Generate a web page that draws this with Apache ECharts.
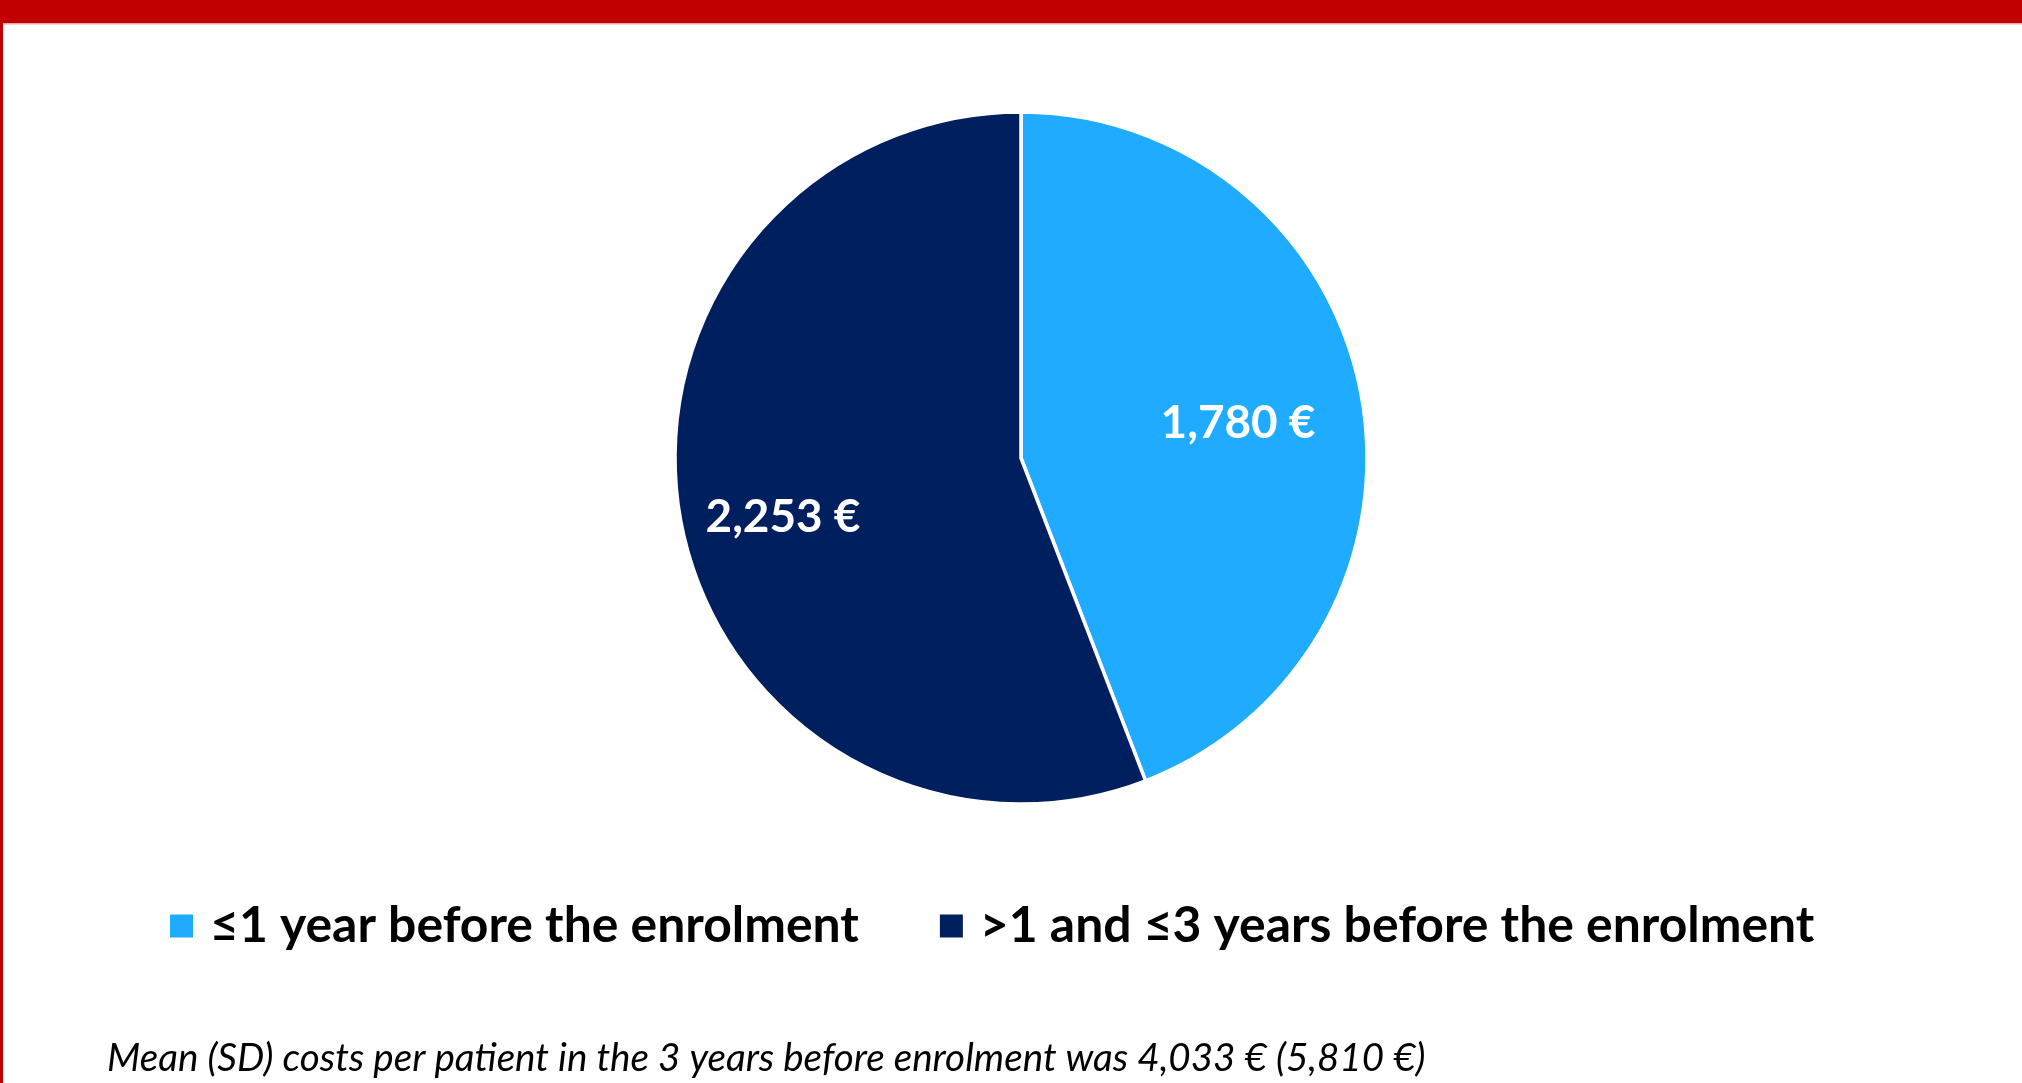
<!DOCTYPE html>
<html>
<head>
<meta charset="utf-8">
<script src="https://cdn.jsdelivr.net/npm/echarts@6/dist/echarts.min.js"></script>
<style>
html,body{margin:0;padding:0;background:#fff;}
#chart{width:2022px;height:1083px;}
</style>
</head>
<body>
<div id="chart"></div>
<script>
const categories = ['≤1 year before the enrolment', '>1 and ≤3 years before the enrolment'];
const values = [1780, 2253];
const colors = ['#1FABFF', '#001F5F'];
const footnote = 'Mean (SD) costs per patient in the 3 years before enrolment was 4,033 € (5,810 €)';

const FAMILY = 'Lato, "Noto Sans", sans-serif';
const cv = document.createElement('canvas').getContext('2d');
function fitSize(text, style, target) {
  cv.font = style + ' 100px ' + FAMILY;
  return 100 * target / cv.measureText(text).width;
}
function fmt(v) { return v.toLocaleString('en-US') + ' €'; }

const labelSize = fitSize(fmt(values[0]), 'bold', 155);
const legendSize = fitSize(categories[0], 'bold', 649);
const footSize = fitSize(footnote, 'italic', 1319);

const labelShift = [[44, -3], [-65, 27]];

const chart = echarts.init(document.getElementById('chart'), null, {renderer: 'canvas'});
chart.setOption({
  backgroundColor: '#fff',
  animation: false,
  color: colors,
  legend: {
    left: 168,
    top: 901,
    padding: 0,
    itemWidth: 25,
    itemHeight: 25,
    itemGap: 79,
    icon: 'rect',
    selectedMode: false,
    data: categories,
    textStyle: {
      fontFamily: FAMILY,
      fontWeight: 'bold',
      fontSize: legendSize,
      color: '#000',
      lineHeight: 25,
      padding: [0, 0, 0, 11]
    }
  },
  graphic: [
    {type: 'rect', shape: {x: 0, y: 0, width: 2022, height: 23}, style: {fill: '#C00000'}, silent: true},
    {type: 'rect', shape: {x: 0, y: 23, width: 2022, height: 1.5}, style: {fill: '#F2A3A3'}, silent: true},
    {type: 'rect', shape: {x: 0, y: 23, width: 3, height: 1060}, style: {fill: '#C00000'}, silent: true},
    {type: 'text', left: 107, top: 1063 - footSize * 0.62,
     style: {text: footnote, fontFamily: FAMILY, fontStyle: 'italic', fontSize: footSize, fill: '#000'}, silent: true}
  ],
  series: [{
    type: 'pie',
    center: [1021, 458],
    radius: [0, 346],
    startAngle: 90,
    clockwise: true,
    silent: true,
    itemStyle: {borderColor: '#fff', borderWidth: 3.5},
    label: {
      show: true,
      position: 'inside',
      formatter: p => fmt(p.value),
      color: '#fff',
      fontFamily: FAMILY,
      fontWeight: 'bold',
      fontSize: labelSize
    },
    labelLayout: p => ({dx: labelShift[p.dataIndex][0], dy: labelShift[p.dataIndex][1]}),
    data: categories.map((c, i) => ({name: c, value: values[i]}))
  }]
});
</script>
</body>
</html>
